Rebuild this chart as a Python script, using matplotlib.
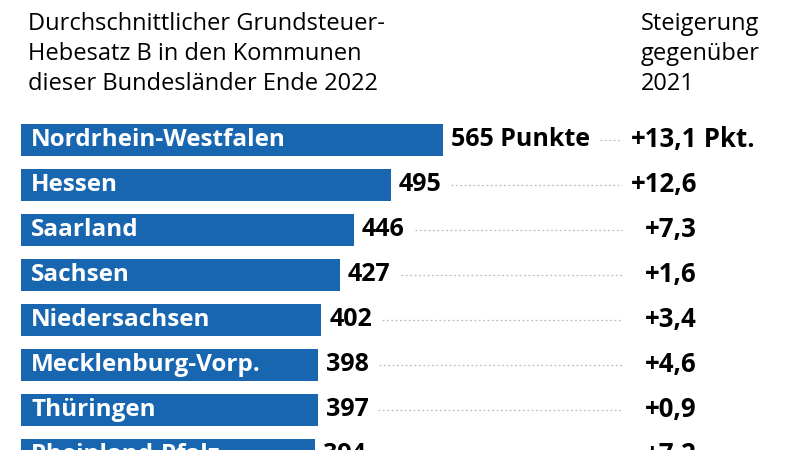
import matplotlib.pyplot as plt

# data
laender = ['Nordrhein-Westfalen', 'Hessen', 'Saarland', 'Sachsen',
           'Niedersachsen', 'Mecklenburg-Vorp.', 'Thüringen', 'Rheinland-Pfalz']
hebesatz = [565, 495, 446, 427, 402, 398, 397, 394]
steigerung = [13.1, 12.6, 7.3, 1.6, 3.4, 4.6, 0.9, 7.2]

title_left = ['Durchschnittlicher Grundsteuer-',
              'Hebesatz B in den Kommunen',
              'dieser Bundesländer Ende 2022']
title_right = ['Steigerung', 'gegenüber', '2021']

blue = '#1866b0'
plt.rcParams['font.family'] = ['Open Sans', 'DejaVu Sans']

fig = plt.figure(figsize=(8, 4.5), dpi=100)
ax = fig.add_axes([0, 0, 1, 1])

# pixel geometry -> data limits
px = 422 / 565          # pixels per point of Hebesatz
x0 = 21
row0, row_step = 140, 45
ax.set_xlim(-x0 / px, (800 - x0) / px)
ax.set_ylim((450 - row0) / row_step, -row0 / row_step)
ax.axis('off')

ys = list(range(len(laender)))
ax.barh(ys, hebesatz, height=32.4 / row_step, color=blue)

fig.canvas.draw()
rend = fig.canvas.get_renderer()
inv = ax.transData.inverted()

dot_end = (622 - x0) / px
change_x = (697 - x0) / px
for i, (name, v, s) in enumerate(zip(laender, hebesatz, steigerung)):
    ax.text(10 / px, i, name, color='white', fontsize=17.5,
            fontweight='bold', va='center', ha='left')
    lab = f'{v} Punkte' if i == 0 else f'{v}'
    t = ax.text(v + 8 / px, i, lab, color='black', fontsize=18,
                fontweight='bold', va='center', ha='left')
    bb = t.get_window_extent(rend)
    xend = inv.transform((bb.x1, bb.y0))[0]
    ax.plot([xend + 10 / px, dot_end], [i, i], color='#bdbdbd',
            lw=0.9, ls=(0, (1.5, 2)))
    ch = f'+{s:.1f}'.replace('.', ',')
    ax.text(change_x, i, ch, color='black', fontsize=18.5, fontweight='bold',
            va='center', ha='right')
    if i == 0:
        ax.text(change_x, i, ' Pkt.', color='black', fontsize=18.5,
                fontweight='bold', va='center', ha='left')

for k, line in enumerate(title_left):
    fig.text(28 / 800, 1 - (30 + 30 * k) / 450, line, fontsize=17,
             va='baseline', ha='left')
for k, line in enumerate(title_right):
    fig.text(641 / 800, 1 - (30 + 30 * k) / 450, line, fontsize=17,
             va='baseline', ha='left')

fig.savefig('out.png', dpi=100)
